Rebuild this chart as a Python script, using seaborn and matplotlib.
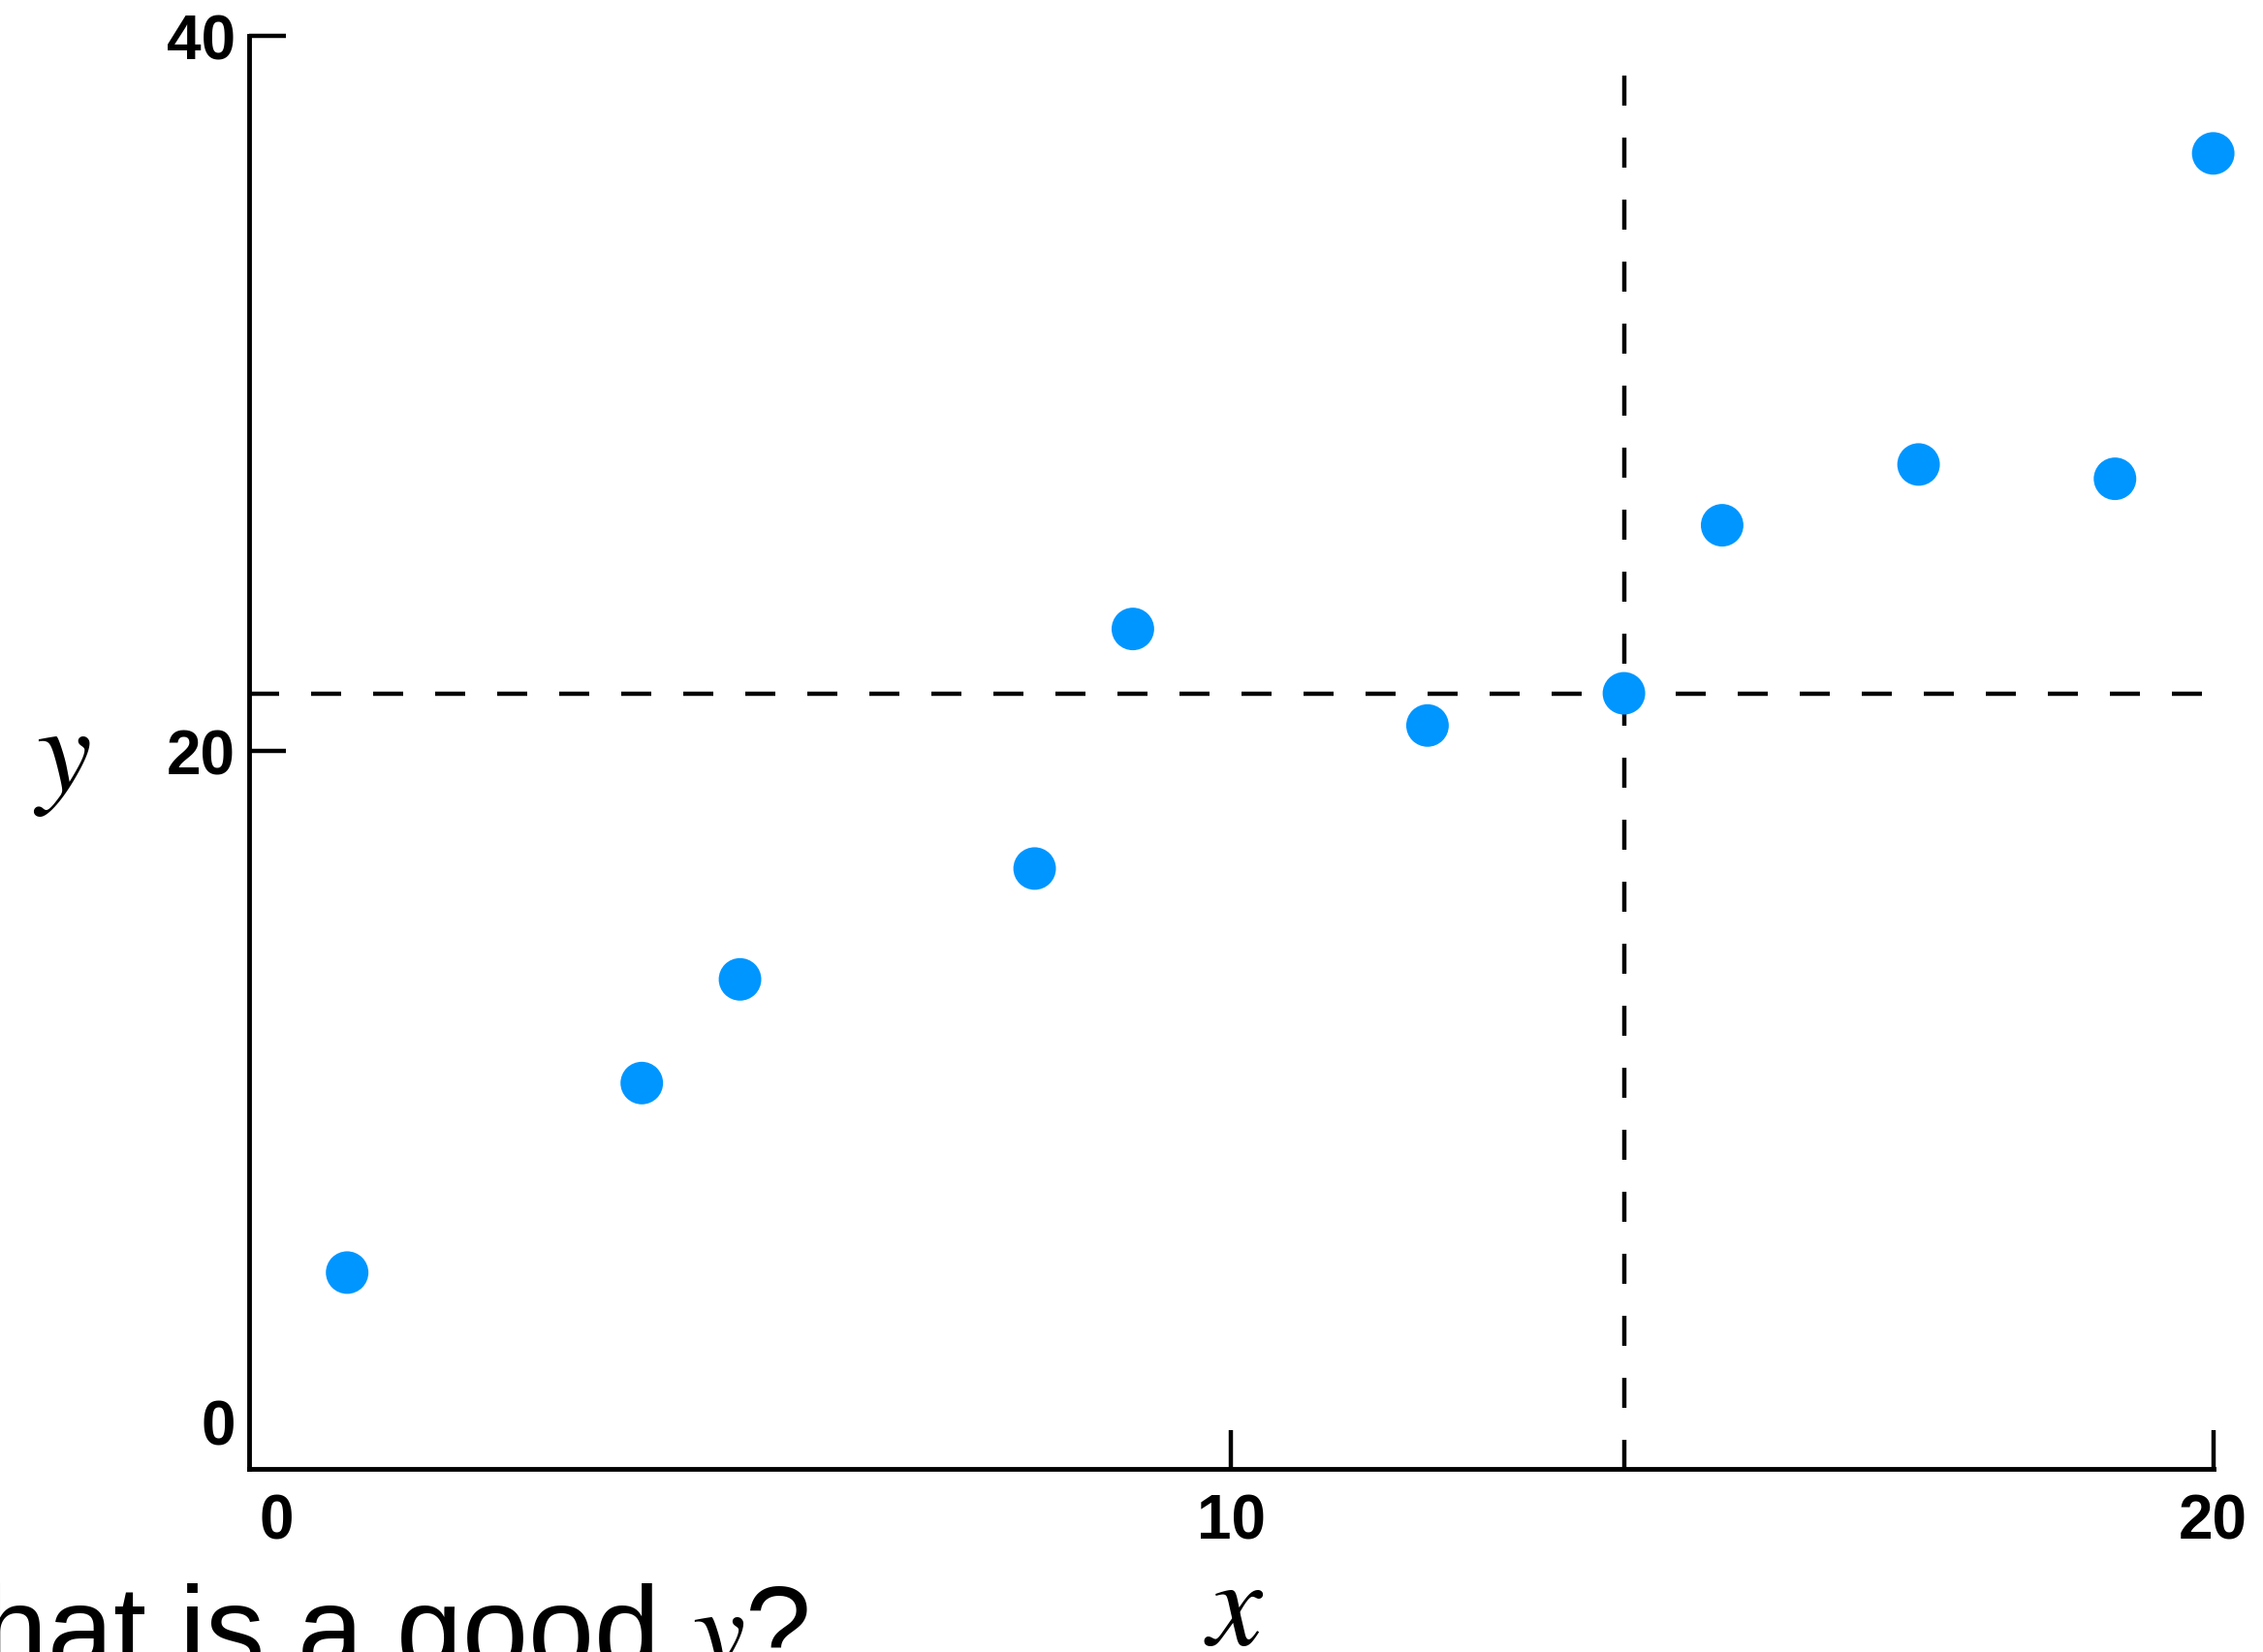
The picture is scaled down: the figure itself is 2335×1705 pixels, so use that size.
import matplotlib
matplotlib.use('Agg')
import matplotlib.pyplot as plt
import matplotlib.transforms as mtransforms
import pandas as pd
import seaborn as sns

# data
x_vals = [1, 4, 5, 8, 9, 12, 14, 15, 17, 19, 20]
y_vals = [5.4, 10.7, 13.6, 16.7, 23.4, 20.7, 21.6, 26.3, 28.0, 27.6, 36.7]
pick = 6  # the point that the dashed guides pass through
x_ticks = [0, 10, 20]
y_ticks = [0, 20, 40]

sns.set_theme(style='white')
plt.rcParams['font.family'] = ['Liberation Sans', 'DejaVu Sans']
plt.rcParams['mathtext.fontset'] = 'stix'
plt.rcParams['text.color'] = 'black'

df = pd.DataFrame({'x': x_vals, 'y': y_vals})

fig = plt.figure(figsize=(23.35, 17.06), dpi=100)
ax = fig.add_axes([0.110, 0.111, 0.868, 0.867])

sns.scatterplot(data=df, x='x', y='y', ax=ax, color='#0096FF', s=1000,
                edgecolor='none', linewidth=0, clip_on=False, zorder=3)

lw = 3.2
dash = (6.975, 7.425)
ax.axhline(y_vals[pick], xmin=0, xmax=1.0, color='black', lw=lw,
           dashes=dash, zorder=2)
# drawn top-down so the dash pattern starts at the top end
ax.axvline(x_vals[pick], ymin=0.972, ymax=0, color='black', lw=lw,
           dashes=dash, zorder=2)

ax.set_xlim(0, 20)
ax.set_ylim(-0.08, 40)
ax.set_xticks(x_ticks)
ax.set_yticks(y_ticks)
ax.set_xticklabels([str(v) for v in x_ticks])
ax.set_yticklabels([str(v) for v in y_ticks])

for side in ['top', 'right']:
    ax.spines[side].set_visible(False)
for side in ['left', 'bottom']:
    ax.spines[side].set_linewidth(3.5)
    ax.spines[side].set_color('black')

ax.tick_params(axis='both', direction='in', width=3.2, colors='black',
               labelsize=46, bottom=True, left=True)
ax.tick_params(axis='x', length=29, pad=18)
ax.tick_params(axis='y', length=27, pad=10)
for lab in ax.get_xticklabels() + ax.get_yticklabels():
    lab.set_fontweight('bold')

# no tick mark at 0, its labels sit off the corner
ax.xaxis.get_major_ticks()[0].tick1line.set_visible(False)
ax.yaxis.get_major_ticks()[0].tick1line.set_visible(False)
xl = ax.xaxis.get_major_ticks()[0].label1
xl.set_transform(xl.get_transform() + mtransforms.ScaledTranslation(0.28, 0, fig.dpi_scale_trans))
yl = ax.yaxis.get_major_ticks()[0].label1
yl.set_transform(yl.get_transform() + mtransforms.ScaledTranslation(0, 0.46, fig.dpi_scale_trans))

ax.set_xlabel('')
ax.set_ylabel('')
fig.text(1273 / 2335, 1 - 1665 / 1706, '$x$', fontsize=92, ha='center', va='center', color='black')
fig.text(64 / 2335, 1 - 785 / 1706, '$y$', fontsize=92, ha='center', va='center', color='black')

# slide text cut by the bottom edge
fig.text(-135 / 2335, -17 / 1706, 'What is a good $y$?', fontsize=88,
         ha='left', va='baseline', color='black')

fig.savefig('out.png', dpi=100)
